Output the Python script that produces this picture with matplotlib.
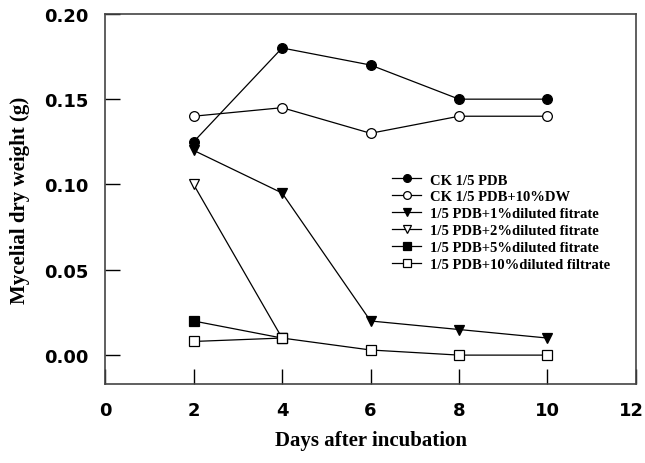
import matplotlib
matplotlib.use("Agg")
import matplotlib.pyplot as plt
from matplotlib.transforms import ScaledTranslation

# Data
days = [2, 4, 6, 8, 10]
ck = [0.125, 0.18, 0.17, 0.15, 0.15]
ck_dw = [0.14, 0.145, 0.13, 0.14, 0.14]
f1 = [0.12, 0.095, 0.02, 0.015, 0.01]
days_short = [2, 4]
f2 = [0.10, 0.01]
f5 = [0.02, 0.01]
f10 = [0.008, 0.01, 0.003, 0.0, 0.0]

labels = ["CK 1/5 PDB", "CK 1/5 PDB+10%DW", "1/5 PDB+1%diluted fitrate",
          "1/5 PDB+2%diluted fitrate", "1/5 PDB+5%diluted fitrate",
          "1/5 PDB+10%diluted filtrate"]

fig = plt.figure(figsize=(6.45, 4.64), dpi=100)
ax = fig.add_axes([0.163, 0.170, 0.823, 0.798])

kw = dict(color="black", lw=0.9, ms=7, mec="black", mew=0.9)
ax.plot(days, ck, marker="o", mfc="black", label=labels[0], **kw)
ax.plot(days, ck_dw, marker="o", mfc="white", label=labels[1], **kw)
ax.plot(days, f1, marker="v", mfc="black", label=labels[2], **kw)
ax.plot(days_short, f2, marker="v", mfc="white", label=labels[3], **kw)
ax.plot(days_short, f5, marker="s", mfc="black", label=labels[4], **kw)
ax.plot(days, f10, marker="s", mfc="white", label=labels[5], **kw)

ax.set_xlim(0, 12)
ax.set_ylim(-0.017, 0.20)
ax.set_xticks([0, 2, 4, 6, 8, 10, 12])
ax.set_yticks([0.0, 0.05, 0.10, 0.15, 0.20])
ax.set_yticklabels(["0.00", "0.05", "0.10", "0.15", "0.20"])
ax.tick_params(direction="in", length=11, width=1, labelsize=13, pad=12)
for t in ax.get_xticklabels() + ax.get_yticklabels():
    t.set_fontweight("bold")
# keep the "12" inside the figure
last = ax.get_xticklabels()[-1]
last.set_transform(last.get_transform() + ScaledTranslation(-5 / 100, 0, fig.dpi_scale_trans))
for s in ax.spines.values():
    s.set_linewidth(1.2)
    s.set_color("#444444")

ax.set_xlabel("Days after incubation", fontsize=15, fontweight="bold",
              family="Liberation Serif", labelpad=8)
ax.set_ylabel("Mycelial dry weight (g)", fontsize=15, fontweight="bold",
              family="Liberation Serif", labelpad=10)

ax.legend(loc="upper left", bbox_to_anchor=(0.53, 0.585), frameon=False,
          prop={"family": "Liberation Serif", "size": 10.5, "weight": "bold"},
          handlelength=2.0, handletextpad=0.6, labelspacing=0.25,
          borderaxespad=0, markerscale=0.8)

fig.savefig("out.png", dpi=100)
